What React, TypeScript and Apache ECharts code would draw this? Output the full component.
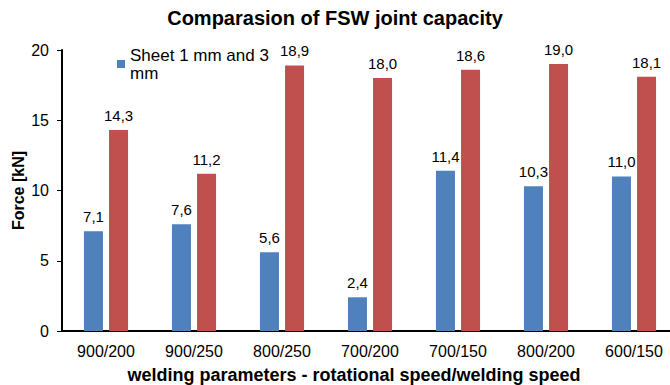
import React, { useEffect, useRef } from "react";
import * as echarts from "echarts";

const categories = ["900/200", "900/250", "800/250", "700/200", "700/150", "800/200", "600/150"];
const sheet1and3 = [7.1, 7.6, 5.6, 2.4, 11.4, 10.3, 11.0];
const secondSeries = [14.3, 11.2, 18.9, 18.0, 18.6, 19.0, 18.1];
const yTicks = { min: 0, max: 20, interval: 5 };

const FONT = "'Liberation Sans', Arial, sans-serif";

export default function App() {
  const ref = useRef<HTMLDivElement>(null);
  useEffect(() => {
    const chart = echarts.init(ref.current!, null, { renderer: "svg" });
    const labelFmt = (p: any) => Number(p.value).toFixed(1).replace(".", ",");
    const dataLabel = {
      show: true,
      position: "top",
      distance: 7,
      formatter: labelFmt,
      color: "#000",
      fontSize: 15,
      fontFamily: FONT,
    };
    chart.setOption({
      animation: false,
      textStyle: { fontFamily: FONT },
      title: {
        text: "Comparasion of FSW joint capacity",
        left: "center",
        top: 8,
        padding: 0,
        textStyle: { fontFamily: FONT, fontSize: 20, fontWeight: "bold", color: "#000" },
      },
      legend: {
        data: ["Sheet 1 mm and 3 mm"],
        left: 117,
        top: 37,
        padding: 0,
        itemWidth: 8,
        itemHeight: 8,
        itemGap: 4,
        icon: "rect",
        formatter: () => "Sheet 1 mm and 3\nmm",
        textStyle: {
          fontFamily: FONT,
          fontSize: 17,
          color: "#000",
          lineHeight: 18,
          padding: [18, 0, 0, 0],
        },
      },
      grid: { left: 62, right: -8, top: 50, bottom: 54, outerBoundsMode: "none", containLabel: false },
      xAxis: {
        type: "category",
        data: categories,
        axisLine: { lineStyle: { color: "#000", width: 2 } },
        axisTick: { show: false },
        axisLabel: { color: "#000", fontSize: 16, margin: 12, fontFamily: FONT },
        name: "welding parameters - rotational speed/welding speed",
        nameLocation: "middle",
        nameGap: 35,
        nameMoveOverlap: false,
        nameTextStyle: {
          fontFamily: FONT,
          fontSize: 18,
          fontWeight: "bold",
          color: "#000",
          padding: [0, 32, 0, 0],
        },
      },
      yAxis: {
        type: "value",
        min: yTicks.min,
        max: yTicks.max,
        interval: yTicks.interval,
        splitLine: { show: false },
        axisLine: { show: true, lineStyle: { color: "#000", width: 2 } },
        axisTick: { show: true, length: 5, lineStyle: { color: "#000" } },
        axisLabel: { color: "#000", fontSize: 16, margin: 13, fontFamily: FONT },
        name: "Force [kN]",
        nameLocation: "middle",
        nameGap: 36,
        nameMoveOverlap: false,
        nameTextStyle: { fontFamily: FONT, fontSize: 16, fontWeight: "bold", color: "#000" },
      },
      series: [
        {
          name: "Sheet 1 mm and 3 mm",
          type: "bar",
          data: sheet1and3,
          barWidth: 19,
          barGap: "32%",
          itemStyle: { color: "#4F81BD" },
          label: dataLabel,
        },
        {
          name: "Sheet 3 mm and 1 mm",
          type: "bar",
          data: secondSeries,
          barWidth: 19,
          itemStyle: { color: "#C0504D" },
          label: dataLabel,
        },
      ],
    });
    return () => chart.dispose();
  }, []);
  return (
    <div
      ref={ref}
      style={{ position: "absolute", left: 0, top: 0, width: 670, height: 385 }}
    />
  );
}
